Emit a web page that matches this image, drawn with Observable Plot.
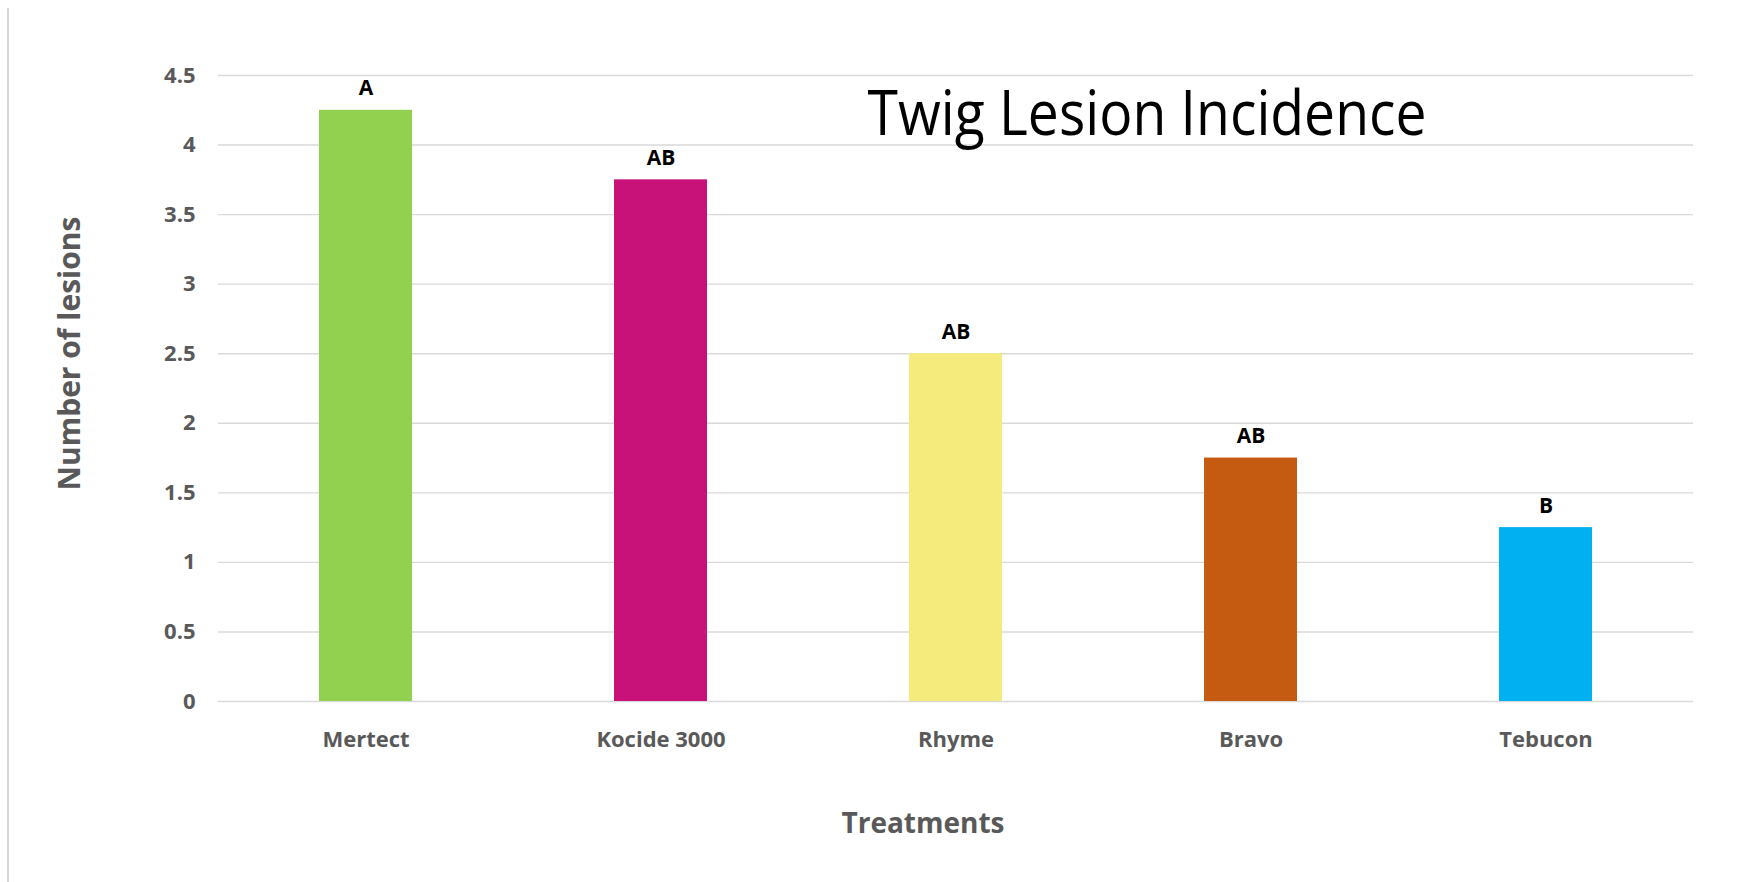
<!DOCTYPE html>
<html>
<head>
<meta charset="utf-8">
<script src="https://cdn.jsdelivr.net/npm/d3@7"></script>
<script src="https://cdn.jsdelivr.net/npm/@observablehq/plot@0.6"></script>
<style>
  html, body { margin: 0; padding: 0; background: #fff; }
  #wrap { position: relative; width: 1750px; height: 882px; }
  #edge { position: absolute; left: 7px; top: 8px; width: 1.5px; bottom: 0; background: #d9d9d9; }
  svg { display: block; }
</style>
</head>
<body>
<div id="wrap"><div id="edge"></div></div>
<script>
// Mean twig lesions per treatment with mean-separation letters
const treatments = ["Mertect", "Kocide 3000", "Rhyme", "Bravo", "Tebucon"];
const lesions = [4.25, 3.75, 2.5, 1.75, 1.25];
const letters = ["A", "AB", "AB", "AB", "B"];
const yTicks = [0, 0.5, 1, 1.5, 2, 2.5, 3, 3.5, 4, 4.5];
const barColors = ["#92D050", "#C8127A", "#F4EB7C", "#C55A11", "#00B0F0"];

const rows = treatments.map((t, i) => ({treatment: t, value: lesions[i], letter: letters[i]}));

const boldFont = "'Open Sans', sans-serif";

const chart = Plot.plot({
  width: 1750,
  height: 882,
  marginLeft: 218,
  marginRight: 57,
  marginTop: 75,
  marginBottom: 181,
  style: {fontFamily: boldFont, background: "transparent"},
  x: {domain: treatments, paddingInner: 0.686, paddingOuter: 0.343, label: null},
  y: {domain: [0, 4.5], label: null},
  color: {domain: treatments, range: barColors},
  marks: [
    Plot.gridY(yTicks, {stroke: "#d9d9d9", strokeOpacity: 1, strokeWidth: 1.4}),
    Plot.axisY(yTicks, {tickSize: 0, tickPadding: 23, fontSize: 22, fontWeight: 700, color: "#595959",
      tickFormat: d3.format("~g"), label: null}),
    Plot.axisX({tickSize: 0, tickPadding: 30, fontSize: 22, fontWeight: 700, color: "#595959", label: null}),
    Plot.barY(rows, {x: "treatment", y: "value", fill: "treatment"}),
    Plot.text(rows, {x: "treatment", y: "value", text: "letter", lineAnchor: "bottom", dy: -15,
      fontSize: 21, fontWeight: 700, fill: "#000"}),
    Plot.text(["Twig Lesion Incidence"], {frameAnchor: "top-left", textAnchor: "start", lineAnchor: "bottom",
      dx: 649, dy: 59, fontSize: 62, fontWeight: 400, fill: "#000", className: "chart-title"}),
    Plot.text(["Treatments"], {frameAnchor: "bottom", textAnchor: "middle", lineAnchor: "bottom", dx: -33, dy: 131,
      fontSize: 28, fontWeight: 700, fill: "#595959"}),
    Plot.text(["Number of lesions"], {frameAnchor: "left", textAnchor: "middle", rotate: -90, lineAnchor: "bottom",
      dx: -139, dy: -35, fontSize: 30, fontWeight: 700, fill: "#595959"})
  ]
});

// Narrow the title to the width of the heading's condensed face
d3.select(chart).selectAll(".chart-title text")
  .attr("textLength", 559)
  .attr("lengthAdjust", "spacingAndGlyphs");

document.getElementById("wrap").appendChild(chart);
</script>
</body>
</html>
